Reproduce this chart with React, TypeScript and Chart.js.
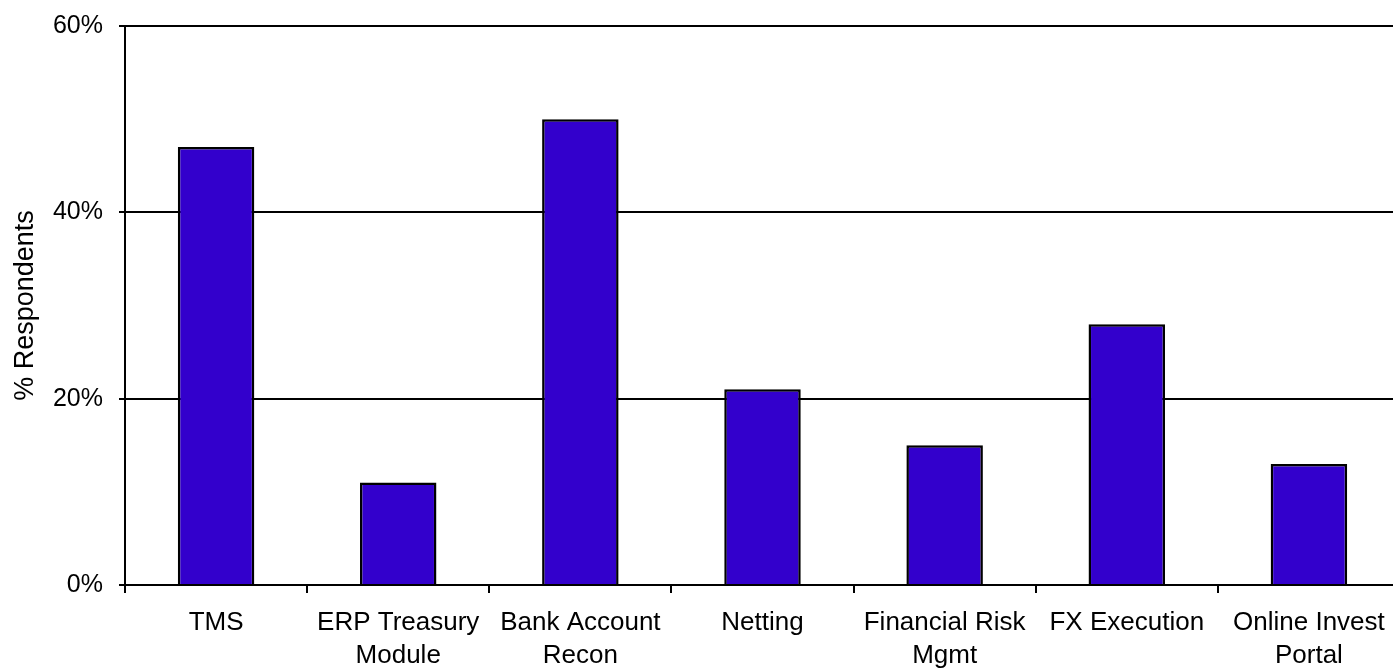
import React, { useEffect, useRef } from "react";
import { Chart, registerables } from "chart.js";

Chart.register(...registerables);

const categories: (string | string[])[] = [
  "TMS",
  ["ERP Treasury", "Module"],
  ["Bank Account", "Recon"],
  "Netting",
  ["Financial Risk", "Mgmt"],
  "FX Execution",
  ["Online Invest", "Portal"],
];
const respondents: number[] = [47, 11, 50, 21, 15, 28, 13];
const yTicks: number[] = [0, 20, 40, 60];

export default function App() {
  const ref = useRef<HTMLCanvasElement | null>(null);
  useEffect(() => {
    if (!ref.current) return;
    const family = "'Liberation Sans', Arial, sans-serif";
    const chart = new Chart(ref.current, {
      type: "bar",
      data: {
        labels: categories,
        datasets: [
          {
            data: respondents,
            backgroundColor: "#3300cc",
            borderColor: "#000000",
            borderWidth: 2.5,
            categoryPercentage: 1,
            barPercentage: 0.42,
          },
        ],
      },
      options: {
        animation: false,
        responsive: false,
        maintainAspectRatio: false,
        layout: { padding: { top: 26, right: 0, bottom: 0, left: 0 } },
        plugins: { legend: { display: false }, tooltip: { enabled: false } },
        scales: {
          x: {
            offset: true,
            grid: {
              offset: true,
              drawOnChartArea: false,
              drawTicks: true,
              tickLength: 8,
              color: "#000",
              lineWidth: 2,
            },
            border: { display: true, color: "#000", width: 2 },
            ticks: {
              color: "#000",
              font: { family, size: 26, lineHeight: 33 / 26 },
              padding: 13,
              maxRotation: 0,
              autoSkip: false,
            },
            afterFit: (s: any) => {
              s.height = 87;
            },
          },
          y: {
            min: 0,
            max: 60,
            afterBuildTicks: (s: any) => {
              s.ticks = yTicks.map((v) => ({ value: v }));
            },
            grid: {
              color: "#000",
              lineWidth: 2,
              drawTicks: true,
              tickLength: 6,
            },
            border: { display: true, color: "#000", width: 2 },
            ticks: {
              color: "#000",
              font: { family, size: 25 },
              padding: 16,
              callback: (v: any) => v + "%",
            },
            title: {
              display: true,
              text: "% Respondents",
              color: "#000",
              font: { family, size: 27 },
              padding: { top: 9, bottom: 0 },
            },
            afterFit: (s: any) => {
              s.width = 125;
              s.paddingTop = 0;
              s.paddingBottom = 0;
            },
          },
        },
      },
    });
    return () => chart.destroy();
  }, []);
  return (
    <div
      style={{
        position: "fixed",
        left: 0,
        top: 0,
        width: 1393,
        height: 672,
        overflow: "hidden",
        background: "#fff",
      }}
    >
      <canvas ref={ref} width={1400} height={672} style={{ width: 1400, height: 672, display: "block" }} />
    </div>
  );
}
